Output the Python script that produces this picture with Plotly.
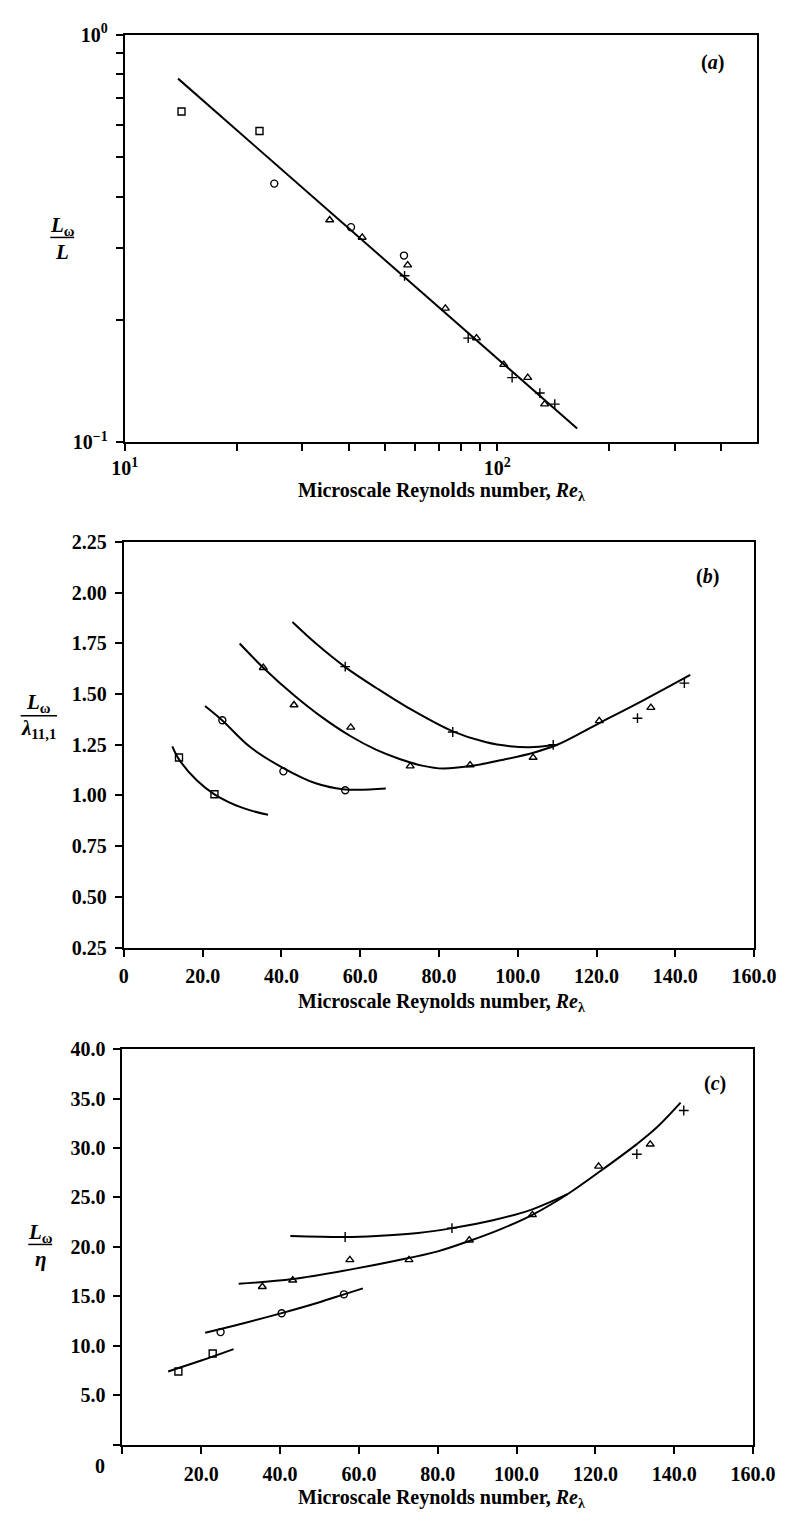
import math
import plotly.graph_objects as go

FONT = "Liberation Serif"
W, H = 811, 1535

# ---------------- panel (a): L_w / L against Re_lambda (log-log) ----------------
a_sq_re = [14.2, 23.0]
a_sq = [0.648, 0.580]
a_ci_re = [25.2, 40.5, 56.2]
a_ci = [0.431, 0.337, 0.287]
a_tri_re = [35.5, 43.4, 57.5, 72.6, 88.0, 104.2, 120.8, 134.1]
a_tri = [0.351, 0.318, 0.272, 0.213, 0.180, 0.155, 0.144, 0.124]
a_plus_re = [56.4, 83.6, 109.7, 130.2, 142.8]
a_plus = [0.256, 0.180, 0.144, 0.132, 0.124]
a_fit_re = [13.9, 164.0]
a_fit = [0.78, 0.108]

a_xtickvals = [10, 100]
a_xticktext = ["10<sup>1</sup>", "10<sup>2</sup>"]
a_xminor = [20, 30, 40, 50, 60, 70, 80, 90, 200, 300, 400]
a_ytickvals = [0.1, 1.0]
a_yticktext = ["10<sup>−1</sup>", "10<sup>0</sup>"]
a_yminor = [0.2, 0.3, 0.4, 0.5, 0.6, 0.7, 0.8, 0.9]

# ---------------- panel (b): L_w / lambda_11,1 against Re_lambda ----------------
b_sq_re = [14.0, 23.0]
b_sq = [1.187, 1.006]
b_ci_re = [25.0, 40.5, 56.2]
b_ci = [1.371, 1.119, 1.026]
b_tri_re = [35.4, 43.2, 57.6, 72.7, 87.9, 103.9, 120.7, 133.8]
b_tri = [1.630, 1.446, 1.336, 1.145, 1.150, 1.187, 1.368, 1.433]
b_plus_re = [56.2, 83.5, 109.0, 130.4, 142.3]
b_plus = [1.635, 1.313, 1.250, 1.381, 1.554]

b_sq_curve_re = [12.3, 14.0, 18.5, 23.0, 30.0, 36.6]
b_sq_curve = [1.242, 1.178, 1.075, 1.006, 0.940, 0.905]
b_ci_curve_re = [20.6, 25.0, 32.0, 40.5, 48.7, 56.2, 66.5]
b_ci_curve = [1.441, 1.370, 1.240, 1.135, 1.060, 1.030, 1.034]
b_tri_curve_re = [29.4, 35.4, 43.2, 50.0, 57.6, 64.0, 70.0, 76.0, 81.0, 88.0,
                  96.0, 104.0, 110.0, 120.7, 132.0, 143.8]
b_tri_curve = [1.749, 1.630, 1.494, 1.390, 1.292, 1.226, 1.180, 1.146, 1.133, 1.145,
               1.175, 1.211, 1.250, 1.357, 1.470, 1.594]
b_plus_curve_re = [42.8, 49.0, 56.2, 64.1, 72.2, 83.5, 92.0, 98.0, 103.0, 109.0]
b_plus_curve = [1.855, 1.745, 1.633, 1.530, 1.432, 1.316, 1.262, 1.243, 1.238, 1.248]

b_xtickvals = [0, 20, 40, 60, 80, 100, 120, 140, 160]
b_xticktext = ["0", "20.0", "40.0", "60.0", "80.0", "100.0", "120.0", "140.0", "160.0"]
b_ytickvals = [0.25, 0.50, 0.75, 1.00, 1.25, 1.50, 1.75, 2.00, 2.25]
b_yticktext = ["0.25", "0.50", "0.75", "1.00", "1.25", "1.50", "1.75", "2.00", "2.25"]

# ---------------- panel (c): L_w / eta against Re_lambda ----------------
c_sq_re = [14.2, 22.9]
c_sq = [7.40, 9.22]
c_ci_re = [24.9, 40.4, 56.2]
c_ci = [11.38, 13.28, 15.20]
c_tri_re = [35.5, 43.2, 57.7, 72.7, 88.0, 104.0, 120.8, 133.9]
c_tri = [15.97, 16.63, 18.69, 18.69, 20.68, 23.24, 28.15, 30.38]
c_plus_re = [56.5, 83.6, 130.5, 142.4]
c_plus = [21.0, 21.9, 29.38, 33.8]

c_sq_curve_re = [11.6, 20.0, 28.2]
c_sq_curve = [7.40, 8.50, 9.66]
c_ci_curve_re = [21.0, 30.0, 40.4, 50.0, 56.2, 61.0]
c_ci_curve = [11.31, 12.20, 13.30, 14.40, 15.20, 15.80]
c_tri_curve_re = [29.5, 43.2, 57.7, 69.3, 80.0, 88.0, 96.0, 104.0, 112.9, 121.0,
                  130.5, 135.6, 141.6]
c_tri_curve = [16.27, 16.75, 17.70, 18.60, 19.55, 20.60, 21.80, 23.25, 25.33, 27.60,
               30.40, 32.10, 34.60]
c_plus_curve_re = [42.6, 56.5, 64.4, 75.0, 83.6, 94.0, 104.0, 112.9]
c_plus_curve = [21.10, 21.00, 21.10, 21.40, 21.90, 22.70, 23.80, 25.33]

c_xtickvals = [20, 40, 60, 80, 100, 120, 140, 160]
c_xticktext = ["20.0", "40.0", "60.0", "80.0", "100.0", "120.0", "140.0", "160.0"]
c_xminor = [0]
c_ytickvals = [5, 10, 15, 20, 25, 30, 35, 40]
c_yticktext = ["5.0", "10.0", "15.0", "20.0", "25.0", "30.0", "35.0", "40.0"]
c_yminor = [0]

X_TITLE = "Microscale Reynolds number, <i>Re</i><sub>λ</sub>"


def px(x):
    return x / W


def py(y):
    return 1 - y / H


fig = go.Figure()

MK = dict(color="black", size=7, line=dict(color="black", width=1.4))


def add_markers(xs, ys, symbol, xa, ya):
    fig.add_trace(go.Scatter(
        x=xs, y=ys, mode="markers", xaxis=xa, yaxis=ya,
        marker=dict(symbol=symbol, **MK), showlegend=False, hoverinfo="x+y"))


def add_curve(xs, ys, xa, ya, spline=True):
    fig.add_trace(go.Scatter(
        x=xs, y=ys, mode="lines", xaxis=xa, yaxis=ya,
        line=dict(color="black", width=2, shape="spline" if spline else "linear",
                  smoothing=1.0),
        showlegend=False, hoverinfo="skip"))


# panel (a)
add_curve(a_fit_re, a_fit, "x", "y", spline=False)
add_markers(a_sq_re, a_sq, "square-open", "x", "y")
add_markers(a_ci_re, a_ci, "circle-open", "x", "y")
add_markers(a_tri_re, a_tri, "triangle-up-open", "x", "y")
add_markers(a_plus_re, a_plus, "cross-thin-open", "x", "y")

# panel (b)
add_curve(b_sq_curve_re, b_sq_curve, "x2", "y2")
add_curve(b_ci_curve_re, b_ci_curve, "x2", "y2")
add_curve(b_tri_curve_re, b_tri_curve, "x2", "y2")
add_curve(b_plus_curve_re, b_plus_curve, "x2", "y2")
add_markers(b_sq_re, b_sq, "square-open", "x2", "y2")
add_markers(b_ci_re, b_ci, "circle-open", "x2", "y2")
add_markers(b_tri_re, b_tri, "triangle-up-open", "x2", "y2")
add_markers(b_plus_re, b_plus, "cross-thin-open", "x2", "y2")

# panel (c)
add_curve(c_sq_curve_re, c_sq_curve, "x3", "y3")
add_curve(c_ci_curve_re, c_ci_curve, "x3", "y3")
add_curve(c_tri_curve_re, c_tri_curve, "x3", "y3")
add_curve(c_plus_curve_re, c_plus_curve, "x3", "y3")
add_markers(c_sq_re, c_sq, "square-open", "x3", "y3")
add_markers(c_ci_re, c_ci, "circle-open", "x3", "y3")
add_markers(c_tri_re, c_tri, "triangle-up-open", "x3", "y3")
add_markers(c_plus_re, c_plus, "cross-thin-open", "x3", "y3")

TICKFONT = dict(family=FONT, size=20, color="black", weight="bold")


def axis(minor_vals=None, **kw):
    base = dict(showline=True, linecolor="black", linewidth=2, mirror=True,
                showgrid=False, zeroline=False, ticks="outside", ticklen=7,
                tickwidth=1.5, tickcolor="black", tickfont=TICKFONT,
                tickmode="array", fixedrange=True)
    if minor_vals:
        base["minor"] = dict(tickmode="array", tickvals=minor_vals, ticks="outside",
                             ticklen=7, tickwidth=1.5, tickcolor="black",
                             showgrid=False)
    base.update(kw)
    return base


fig.update_layout(
    width=W, height=H, margin=dict(l=0, r=0, t=0, b=0),
    paper_bgcolor="white", plot_bgcolor="white", showlegend=False,
    xaxis=axis(a_xminor, type="log", range=[1, math.log10(500)],
               domain=[px(117), px(779)], anchor="y",
               tickvals=a_xtickvals, ticktext=a_xticktext, ticklabelstandoff=0),
    yaxis=axis(a_yminor, type="log", range=[-1, 0], domain=[py(436), py(22)],
               anchor="x", tickvals=a_ytickvals, ticktext=a_yticktext,
               ticklabelstandoff=4),
    xaxis2=axis(range=[0, 160], domain=[px(116), px(775.5)], anchor="y2",
                tickvals=b_xtickvals, ticktext=b_xticktext, ticklabelstandoff=2),
    yaxis2=axis(range=[0.25, 2.25], domain=[py(949.5), py(537.3)], anchor="x2",
                tickvals=b_ytickvals, ticktext=b_yticktext, ticklabelstandoff=4),
    xaxis3=axis(c_xminor, range=[0, 160], domain=[px(114.5), px(774.5)],
                anchor="y3", tickvals=c_xtickvals, ticktext=c_xticktext,
                ticklabelstandoff=3),
    yaxis3=axis(c_yminor, range=[0, 40], domain=[py(1454.3), py(1052.7)],
                anchor="x3", tickvals=c_ytickvals, ticktext=c_yticktext,
                ticklabelstandoff=4),
)

LABFONT = dict(family=FONT, size=20, color="black", weight="bold")
FRACFONT = dict(family=FONT, size=21, color="black", weight="bold")


def note(text, x, y, font=LABFONT, xanchor="center"):
    fig.add_annotation(text=text, x=px(x), y=py(y), xref="paper", yref="paper",
                       showarrow=False, font=font, xanchor=xanchor, yanchor="middle")


def bar(x0, x1, y):
    fig.add_shape(type="line", xref="paper", yref="paper",
                  x0=px(x0), x1=px(x1), y0=py(y), y1=py(y),
                  line=dict(color="black", width=1.5))


# x-axis titles
note(X_TITLE, 448, 486)
note(X_TITLE, 448, 1005)
note(X_TITLE, 448, 1509)

# origin label of panel (c)
note("0", 91, 1476)

# panel letters
note("(<i>a</i>)", 732, 50)
note("(<i>b</i>)", 727, 572)
note("(<i>c</i>)", 735, 1088)

# y-axis titles written as fractions
note("<i>L</i><sub>ω</sub>", 52, 216, FRACFONT)
bar(39, 64, 228)
note("<i>L</i>", 51, 243, FRACFONT)

note("<i>L</i><sub>ω</sub>", 27, 701, FRACFONT)
bar(8, 46, 714)
note("<i>λ</i><sub>11,1</sub>", 27, 727, FRACFONT)

note("<i>L</i><sub>ω</sub>", 29, 1239, FRACFONT)
bar(16, 41, 1251)
note("<i>η</i>", 29, 1266, FRACFONT)

fig.write_html("out.html")
